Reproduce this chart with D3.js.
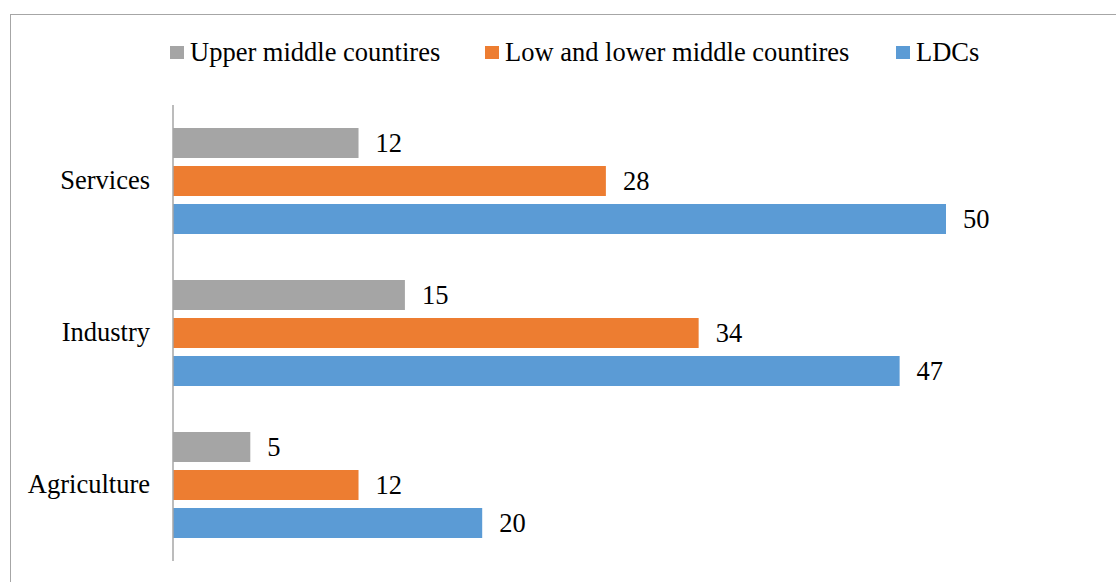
<!DOCTYPE html>
<html>
<head>
<meta charset="utf-8">
<script src="https://cdn.jsdelivr.net/npm/d3@7"></script>
<style>
  html, body { margin: 0; padding: 0; background: #fff; }
  svg { display: block; }
</style>
</head>
<body>
<svg id="chart" width="1116" height="582"></svg>
<script>
// Sectors, drawn top to bottom
const categories = ["Services", "Industry", "Agriculture"];
// Series names and colours (legend order)
const seriesNames = ["Upper middle countires", "Low and lower middle countires", "LDCs"];
const seriesColors = ["#A5A5A5", "#ED7D31", "#5B9BD5"];
// Values per series, aligned with categories
const upperMiddle = [12, 15, 5];
const lowLowerMiddle = [28, 34, 12];
const ldcs = [50, 47, 20];
const seriesValues = [upperMiddle, lowLowerMiddle, ldcs];

const FONT_FAMILY = "'Liberation Serif'";
const FONT_SIZE = "26.5px";
const svg = d3.select("#chart");

function styleText(sel) {
  return sel.style("font-family", FONT_FAMILY).style("font-size", FONT_SIZE).attr("fill", "#000");
}

// Outer chart frame
svg.append("rect")
  .attr("x", 10.5).attr("y", 14.5)
  .attr("width", 1120).attr("height", 600)
  .attr("fill", "none").attr("stroke", "#a6a6a6").attr("stroke-width", 1);

const plot = { left: 173, top: 105, bottom: 561 };

const x = d3.scaleLinear().domain([0, 50]).range([plot.left, 946]);
const y = d3.scaleBand().domain(categories).range([plot.top, plot.bottom]);
// Within a category: 3 bars of 30px with 8px gaps, centred in the band
const barH = 30, barGap = 8;
const groupH = seriesNames.length * barH + (seriesNames.length - 1) * barGap;
const off = (y.bandwidth() - groupH) / 2;
const inner = d3.scaleBand().domain(d3.range(seriesNames.length))
  .range([off, off + groupH])
  .paddingInner(barGap / (barH + barGap)).paddingOuter(0);

const rows = [];
seriesValues.forEach((vals, s) => {
  vals.forEach((v, c) => rows.push({ s, cat: categories[c], v }));
});

svg.append("g").selectAll("rect").data(rows).join("rect")
  .attr("x", x(0))
  .attr("y", d => y(d.cat) + inner(d.s))
  .attr("width", d => x(d.v) - x(0))
  .attr("height", inner.bandwidth())
  .attr("fill", d => seriesColors[d.s]);

// Value labels
styleText(svg.append("g").selectAll("text").data(rows).join("text")
  .attr("x", d => x(d.v) + 17)
  .attr("y", d => y(d.cat) + inner(d.s) + inner.bandwidth() / 2)
  .attr("dy", "0.33em")
  .text(d => d.v));

// Vertical category axis
const yAxis = svg.append("g").attr("transform", `translate(${plot.left},0)`)
  .call(d3.axisLeft(y).tickSize(0).tickPadding(23));
yAxis.attr("font-family", null).attr("font-size", null);
yAxis.select(".domain").attr("stroke", "#a6a6a6").attr("stroke-width", 1.5)
  .attr("d", `M0,${plot.top}V${plot.bottom}`);
styleText(yAxis.selectAll("text")).attr("dy", "0.32em");

// Legend
const legendX = [170, 485, 896];
const legend = svg.append("g").selectAll("g").data(seriesNames).join("g")
  .attr("transform", (d, i) => `translate(${legendX[i]},46)`);
legend.append("rect").attr("width", 14).attr("height", 13)
  .attr("fill", (d, i) => seriesColors[i]);
styleText(legend.append("text")
  .attr("x", 20).attr("y", 6.5).attr("dy", "0.33em")
  .text(d => d));
</script>
</body>
</html>
